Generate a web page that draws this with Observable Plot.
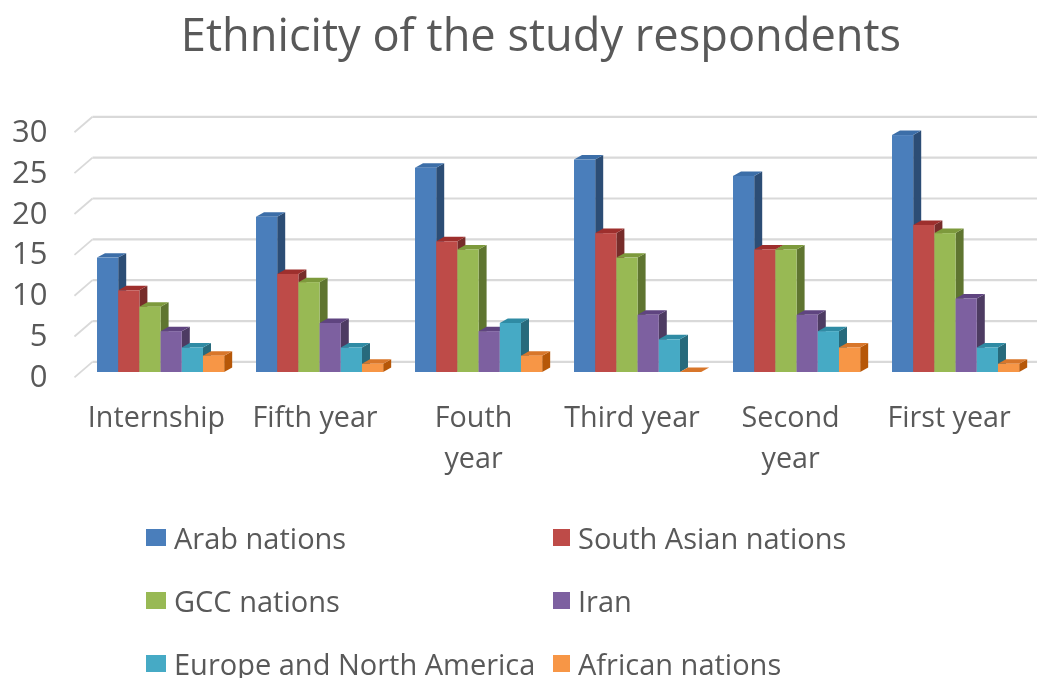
<!DOCTYPE html>
<html><head><meta charset="utf-8">
<script src="https://cdn.jsdelivr.net/npm/d3@7"></script>
<script src="https://cdn.jsdelivr.net/npm/@observablehq/plot@0.6"></script>
<style>
html,body{margin:0;padding:0;background:#fff;width:1037px;height:678px;overflow:hidden}
body{font-family:"Open Sans",sans-serif;color:#595959;position:relative;filter:blur(0.5px)}
#title{height:100px;text-align:center;font-size:45.2px;line-height:68px;padding-left:45px;box-sizing:border-box;white-space:nowrap}
#chart svg{display:block}
#legend{position:absolute;left:0;top:505px;width:1037px;height:173px;font-size:29px;line-height:29px}
.item{position:absolute;display:flex;align-items:center;height:30px;white-space:nowrap}
.sw{display:inline-block;height:17px;margin-right:8px}
</style></head><body>
<div id="title">Ethnicity of the study respondents</div>
<div id="chart"></div>
<div id="legend"></div>
<script>
const categories = ["Internship","Fifth year","Fouth\nyear","Third year","Second\nyear","First year"];
const seriesNames = ["Arab nations","South Asian nations","GCC nations","Iran","Europe and North America","African nations"];
const arab    = [14,19,25,26,24,29];
const southAs = [10,12,16,17,15,18];
const gcc     = [8,11,15,14,15,17];
const iran    = [5,6,5,7,7,9];
const europe  = [3,3,6,4,5,3];
const african = [2,1,2,0,3,1];
const yTicks = [0,5,10,15,20,25,30];
const frontColors = ["#4a7ebb","#be4b48","#98b954","#7d60a0","#46aac5","#f79646"];
const sideColors  = ["#2c4d75","#772c2a","#5f7530","#4d3b62","#276a7c","#b65708"];
const topColors   = ["#3c6ea8","#9e2f2d","#7d9a3c","#5f4480","#2f8ba4","#d8762a"];

const series = [arab,southAs,gcc,iran,europe,african];
const barW = 0.1333, start = 0.129;      // in category units
const depX = 8/159, depY = 0.55;         // bar depth
const wallL = -0.016, wallR = 0.0975, wallFront = -0.6, wallBack = 1.3;

const bars = [];
series.forEach((vals,s)=>vals.forEach((v,c)=>{
  const x0 = c+start+s*barW;
  bars.push({id:`${c}-${s}`,s,c,v,x0,x1:x0+barW});
}));
const sideData = bars.flatMap(b=>[
  {id:b.id,fill:sideColors[b.s],x:b.x1,y1:0,y2:b.v},
  {id:b.id,fill:sideColors[b.s],x:b.x1+depX,y1:depY,y2:b.v+depY}]);
const topData = bars.flatMap(b=>[
  {id:b.id,fill:topColors[b.s],y:b.v,x1:b.x0,x2:b.x1},
  {id:b.id,fill:topColors[b.s],y:b.v+depY,x1:b.x0+depX,x2:b.x1+depX}]);

const plot = Plot.plot({
  width:1037, height:380,
  marginLeft:76, marginRight:0, marginTop:0, marginBottom:0,
  style:{fontFamily:'"Open Sans",sans-serif',color:"#595959",background:"#fff",overflow:"visible"},
  x:{type:"linear",domain:[0,6],range:[76.5,1030.5],axis:null},
  y:{type:"linear",domain:[0,30],range:[272,26.9],axis:null},
  color:{type:"identity"},
  marks:[
    Plot.link(yTicks,{x1:()=>wallL,x2:()=>wallR,y1:d=>d+wallFront,y2:d=>d+wallBack,stroke:"#d9d9d9",strokeWidth:1.8}),
    Plot.link(yTicks,{x1:()=>wallR,x2:()=>6.05,y1:d=>d+wallBack,y2:d=>d+wallBack,stroke:"#d9d9d9",strokeWidth:2.2}),
    Plot.areaY(sideData,{x:"x",y1:"y1",y2:"y2",z:"id",fill:"fill",curve:"linear"}),
    Plot.areaX(topData,{y:"y",x1:"x1",x2:"x2",z:"id",fill:"fill",curve:"linear"}),
    Plot.rect(bars,{x1:"x0",x2:"x1",y1:()=>0,y2:"v",fill:d=>frontColors[d.s],inset:0}),
    Plot.text(yTicks,{text:d=>String(d),x:()=>0,y:d=>d,dx:-29.5,dy:4.5,textAnchor:"end",fontSize:31,fill:"#595959"}),
    Plot.text(categories,{text:d=>d,x:(d,i)=>0.5+i*0.997,y:()=>0,dy:25,lineAnchor:"top",lineHeight:1.43,textAnchor:"middle",fontSize:28.7,fill:"#595959"})
  ]
});
document.getElementById("chart").append(plot);

const legendPos = [[146,17,20],[553,17,17],[146,80,20],[553,80,17],[146,143,20],[553,143,17]];
const legend = document.getElementById("legend");
seriesNames.forEach((n,i)=>{
  const el=document.createElement("div");el.className="item";
  el.style.left=legendPos[i][0]+"px";el.style.top=legendPos[i][1]+"px";
  const sw=document.createElement("span");sw.className="sw";sw.style.background=frontColors[i];sw.style.width=legendPos[i][2]+"px";
  el.append(sw,document.createTextNode(n));legend.append(el);
});
</script>
</body></html>
